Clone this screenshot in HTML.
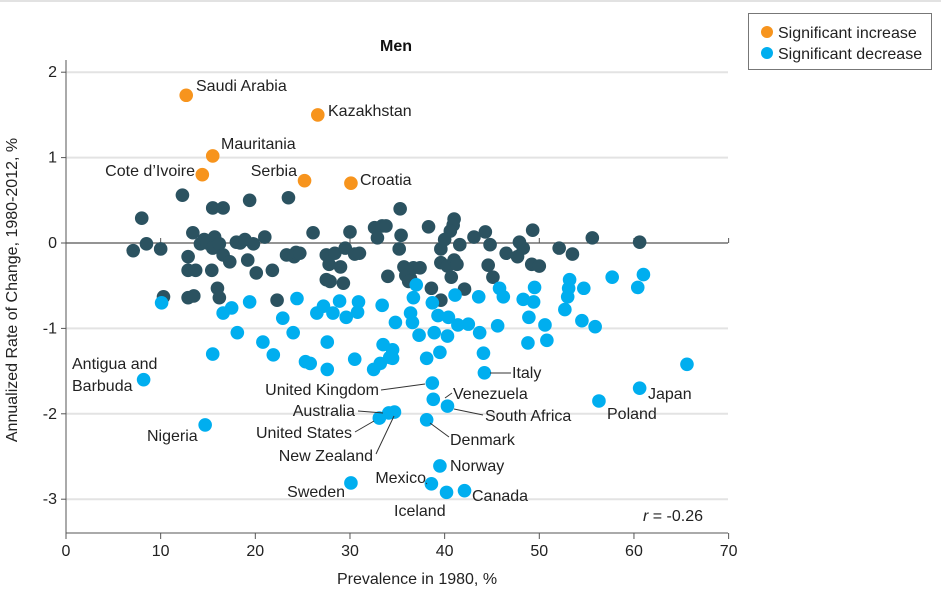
<!DOCTYPE html>
<html><head><meta charset="utf-8"><style>
html,body{margin:0;padding:0;background:#fff;}
svg{display:block;font-family:"Liberation Sans Narrow","Liberation Sans",sans-serif;}
</style></head><body>
<svg id="chart" width="941" height="609" viewBox="0 0 941 609" xmlns="http://www.w3.org/2000/svg">
<line x1="0" y1="1" x2="941" y2="1" stroke="#e2e2e2" stroke-width="2"/>
<text x="396" y="51" text-anchor="middle" font-weight="bold" font-size="16" fill="#111">Men</text>
<g>
<rect x="748.5" y="13.5" width="183" height="56" fill="#fff" stroke="#777"/>
<circle cx="767" cy="32" r="6" fill="#f7941d"/>
<text x="778" y="38" font-size="16" fill="#222">Significant increase</text>
<circle cx="767" cy="53" r="6" fill="#00aeef"/>
<text x="778" y="59" font-size="16" fill="#222">Significant decrease</text>
</g>
<g id="grid"></g>
<g id="axes"></g>
<g id="marks"></g>
<g id="labels"></g>
<text x="17" y="290" transform="rotate(-90 17 290)" text-anchor="middle" font-size="16" fill="#222">Annualized Rate of Change, 1980-2012, %</text>
<text x="417" y="584" text-anchor="middle" font-size="16" fill="#222">Prevalence in 1980, %</text>
<text x="703" y="521" text-anchor="end" font-size="16" fill="#222"><tspan font-style="italic">r</tspan> = -0.26</text>
</svg>
<script>
const xTicks=[0,10,20,30,40,50,60,70];
const yTicks=[2,1,0,-1,-2,-3];
const darkX=[7.1,8.0,8.5,10.0,10.3,12.3,12.9,12.9,12.9,13.4,13.5,13.7,14.2,14.6,14.9,15.5,16.6,15.7,15.4,16.0,16.2,15.5,16.2,16.6,17.3,18.0,18.4,18.9,19.4,19.2,19.8,20.1,21.0,21.8,22.3,23.5,23.3,24.1,24.3,24.7,26.1,27.5,27.8,27.5,27.9,29.0,29.3,28.4,29.5,30.0,30.5,31.0,32.6,33.4,33.8,32.9,35.3,35.2,35.4,35.7,36.4,34.0,35.9,36.2,36.7,37.4,38.3,39.6,40.3,39.6,41.0,40.9,40.6,43.1,44.3,44.6,44.8,45.1,41.6,41.0,41.3,46.5,48.3,49.3,47.9,47.7,49.2,50.0,52.1,53.5,55.6,60.6,40.0,38.6,39.6,40.7,42.1];
const darkY=[-0.09,0.29,-0.01,-0.07,-0.63,0.56,-0.32,-0.16,-0.64,0.12,-0.62,-0.32,-0.01,0.04,0,0.41,0.41,0.07,-0.32,-0.53,-0.64,-0.06,-0.01,-0.14,-0.22,0.01,0,0.04,0.5,-0.2,-0.01,-0.35,0.07,-0.32,-0.67,0.53,-0.14,-0.16,-0.11,-0.12,0.12,-0.14,-0.25,-0.43,-0.45,-0.28,-0.47,-0.12,-0.06,0.13,-0.13,-0.12,0.18,0.2,0.2,0.06,0.4,-0.07,0.09,-0.28,-0.42,-0.39,-0.38,-0.45,-0.29,-0.29,0.19,-0.23,-0.27,-0.07,0.28,0.21,0.14,0.07,0.13,-0.26,-0.02,-0.4,-0.02,-0.2,-0.25,-0.12,-0.06,0.15,0.01,-0.16,-0.25,-0.27,-0.06,-0.13,0.06,0.01,0.04,-0.53,-0.67,-0.4,-0.54];
const lightX=[10.1,16.6,17.5,19.4,18.1,20.8,21.9,15.5,22.9,24.0,24.4,25.3,25.8,27.6,27.6,26.5,27.2,28.2,28.9,29.6,30.9,30.8,33.4,34.8,30.5,32.5,33.5,34.2,33.2,37.0,36.7,36.4,36.6,38.7,39.3,40.4,41.4,42.5,43.7,41.1,43.6,45.6,45.8,46.2,48.3,49.4,49.5,48.9,50.6,48.8,50.8,52.7,53.0,53.2,53.1,54.7,54.5,55.9,57.7,60.4,61.0,37.3,38.9,40.3,34.5,34.5,38.1,39.5,44.1,8.2,14.7,38.7,38.8,40.3,44.2,34.1,33.1,34.7,38.1,39.5,38.6,30.1,40.2,42.1,56.3,60.6,65.6];
const lightY=[-0.70,-0.82,-0.76,-0.69,-1.05,-1.16,-1.31,-1.30,-0.88,-1.05,-0.65,-1.39,-1.41,-1.16,-1.48,-0.82,-0.74,-0.82,-0.68,-0.87,-0.69,-0.81,-0.73,-0.93,-1.36,-1.48,-1.19,-1.34,-1.41,-0.49,-0.64,-0.82,-0.93,-0.70,-0.85,-0.87,-0.96,-0.95,-1.05,-0.61,-0.63,-0.97,-0.53,-0.63,-0.66,-0.69,-0.52,-0.87,-0.96,-1.17,-1.14,-0.78,-0.63,-0.43,-0.53,-0.53,-0.91,-0.98,-0.40,-0.52,-0.37,-1.08,-1.05,-1.09,-1.25,-1.35,-1.35,-1.28,-1.29,-1.60,-2.13,-1.64,-1.83,-1.91,-1.52,-1.99,-2.05,-1.98,-2.07,-2.61,-2.82,-2.81,-2.92,-2.90,-1.85,-1.70,-1.42];
const orangeX=[12.7,26.6,15.5,14.4,25.2,30.1];
const orangeY=[1.73,1.50,1.02,0.80,0.73,0.70];
const labelNames=["Saudi Arabia","Kazakhstan","Mauritania","Cote d’Ivoire","Serbia","Croatia","Antigua and","Barbuda","Nigeria","United Kingdom","Venezuela","South Africa","Italy","Australia","United States","New Zealand","Denmark","Norway","Mexico","Sweden","Iceland","Canada","Poland","Japan"];
const labelPos=[[196,91,"start"],[328,116,"start"],[221,149,"start"],[195,176,"end"],[297,176,"end"],[360,185,"start"],[72,369,"start"],[72,391,"start"],[147,441,"start"],[379,395,"end"],[453,399,"start"],[485,421,"start"],[512,378,"start"],[355,416,"end"],[352,438,"end"],[373,461,"end"],[450,445,"start"],[450,471,"start"],[426,483,"end"],[345,497,"end"],[394,516,"start"],[472,501,"start"],[607,419,"start"],[648,399,"start"]];
const leaders=[[381,390,425,384],[445,398,452,393],[454,409,483,415],[490,373,511,373],[358,411,383,413],[355,432,374,421],[376,454,394,416],[430,423,449,437],[427,483,426,484]];
const X0=66,XS=9.466,Y0=243,YS=85.4;
const sx=v=>X0+v*XS, sy=v=>Y0-v*YS;
const NS="http://www.w3.org/2000/svg";
function mk(t,a,p){const e=document.createElementNS(NS,t);for(const k in a)e.setAttribute(k,a[k]);p.appendChild(e);return e;}
const grid=document.getElementById('grid'),axes=document.getElementById('axes'),marks=document.getElementById('marks'),labels=document.getElementById('labels');
yTicks.forEach(v=>{
 const g=mk('line',{x1:66,x2:728,y1:sy(v),y2:sy(v),stroke:v===0?'#555':'#e3e3e3','stroke-width':v===0?1.2:2},grid);
 
 
 const tk=mk('line',{x1:61,x2:66,y1:sy(v),y2:sy(v),stroke:'#555'},axes);
 
 
 const t=mk('text',{x:57,y:sy(v)+5,'text-anchor':'end','font-size':16,fill:'#222'},axes);
 t.textContent=v;
 
 
});
const ya=mk('line',{x1:66,x2:66,y1:60,y2:533,stroke:'#555'},axes);


const xa=mk('line',{x1:66,x2:728,y1:533,y2:533,stroke:'#555'},axes);


xTicks.forEach(v=>{
 const tk=mk('line',{x1:sx(v),x2:sx(v),y1:533,y2:539,stroke:'#555'},axes);
 
 
 const z=mk('line',{x1:sx(v),x2:sx(v),y1:238,y2:243,stroke:'#555'},axes);
 
 
 const t=mk('text',{x:sx(v),y:556,'text-anchor':'middle','font-size':16,fill:'#222'},axes);
 t.textContent=v;
 
 
});
function series(xs,ys,col,name){xs.forEach((x,i)=>{
 const c=mk('circle',{cx:sx(x),cy:sy(ys[i]),r:6.8,fill:col},marks);
 
 
});}
series(darkX,darkY,'#2b5260','nonsignificant-point');
series(lightX,lightY,'#00aeef','decrease-point');
series(orangeX,orangeY,'#f7941d','increase-point');
leaders.forEach(l=>{
 const e=mk('line',{x1:l[0],y1:l[1],x2:l[2],y2:l[3],stroke:'#333','stroke-width':1},labels);
 
 
});
labelNames.forEach((n,i)=>{
 const p=labelPos[i];
 const t=mk('text',{x:p[0],y:p[1],'text-anchor':p[2],'font-size':16,fill:'#222'},labels);
 t.textContent=n;
 
 
});
</script>
</body></html>
